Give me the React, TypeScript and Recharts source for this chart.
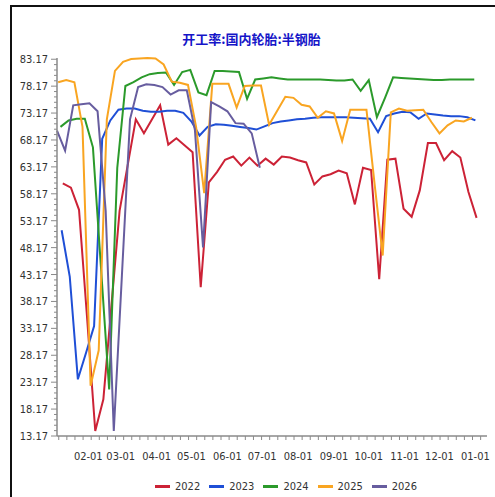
import React from 'react';
import { LineChart, Line, XAxis, YAxis } from 'recharts';

// 开工率:国内轮胎:半钢胎 — weekly readings, one array per year
const years = ['2022', '2023', '2024', '2025', '2026'];
const colors = ['#cc2236', '#1f4fd6', '#2b9a2b', '#f9a521', '#675d9f'];
// day of year of each year's first weekly reading
const firstDay = [9, 8, 7, 5, 4];

const v2022 = [
  60.1, 59.3, 55.2, 35.0, 14.1, 20.0, 37.5, 55.0, 63.5, 72.0,
  69.4, 72.0, 74.6, 67.3, 68.5, 67.2, 65.9, 40.8, 60.3, 62.2,
  64.5, 65.1, 63.4, 64.9, 63.4, 64.7, 63.6, 65.1, 64.9, 64.4,
  64.0, 59.9, 61.4, 61.8, 62.5, 62.0, 56.2, 63.0, 62.6, 42.3,
  64.5, 64.7, 55.4, 53.9, 58.8, 67.6, 67.6, 64.4, 66.1, 64.9,
  58.5, 53.7,
];
const v2023 = [
  51.4, 42.8, 23.7, 28.6, 33.6, 68.4, 71.8, 73.8, 74.0, 74.0,
  73.6, 73.4, 73.4, 73.6, 73.6, 73.2, 71.6, 69.0, 70.6, 71.1,
  71.0, 70.8, 70.6, 70.4, 70.1, 70.7, 71.3, 71.6, 71.8, 72.0,
  72.1, 72.3, 72.4, 72.4, 72.4, 72.4, 72.3, 72.2, 72.1, 69.6,
  72.6, 73.1, 73.4, 73.3, 72.1, 73.1, 72.9, 72.7, 72.6, 72.6,
  72.4, 71.8,
];
const v2024 = [
  70.6, 71.8, 72.1, 72.1, 66.8, 44.3, 21.8, 63.0, 78.2, 78.9,
  79.8, 80.4, 80.6, 80.7, 78.4, 80.8, 81.2, 77.0, 76.5, 81.0,
  81.0, 80.9, 80.8, 75.8, 79.4, 79.6, 79.8, 79.6, 79.4, 79.4,
  79.4, 79.4, 79.4, 79.3, 79.2, 79.2, 79.4, 77.3, 79.3, 72.4,
  76.0, 79.8, 79.7, 79.6, 79.5, 79.4, 79.3, 79.3, 79.4, 79.4,
  79.4, 79.4,
];
const v2025 = [
  78.9, 79.3, 78.9, 70.6, 22.5, 29.1, 72.0, 81.0, 82.7, 83.2,
  83.3, 83.4, 83.3, 82.2, 79.0, 78.8, 78.4, 70.6, 58.3, 78.6,
  78.6, 78.6, 74.2, 78.2, 78.3, 78.3, 71.0, 73.6, 76.2, 76.0,
  74.7, 74.4, 72.3, 73.5, 73.1, 68.0, 73.8, 73.8, 73.8, 60.0,
  46.7, 73.3, 74.0, 73.6, 73.7, 73.8, 71.5, 69.4, 70.9, 71.8,
  71.6, 72.3,
];
const v2026 = [
  69.9, 66.2, 74.6, 74.8, 75.0, 73.5, 55.0, 14.1, 43.0, 72.0,
  78.0, 78.5, 78.4, 78.0, 76.6, 77.4, 77.4, 70.0, 48.2, 75.2,
  74.4, 73.5, 71.3, 71.2, 69.4, 63.0,
];
const values = [v2022, v2023, v2024, v2025, v2026];

const monthTicks = [31, 59, 90, 120, 151, 181, 212, 243, 273, 304, 334, 365];
const monthLabels = ['02-01', '03-01', '04-01', '05-01', '06-01', '07-01', '08-01', '09-01', '10-01', '11-01', '12-01', '01-01'];
const yTicks = [13.17, 18.17, 23.17, 28.17, 33.17, 38.17, 43.17, 48.17, 53.17, 58.17, 63.17, 68.17, 73.17, 78.17, 83.17];

const series = values.map((vals, k) =>
  vals.map((v, i) => ({ day: firstDay[k] + 7 * i, value: v }))
);

// minor ticks
const yMinor = Array.from({ length: 71 }, (_, i) => Math.round((13.17 + i) * 100) / 100);
const xMinor = Array.from({ length: 53 }, (_, i) => 5.5 + 7 * i);
const xAll = [...xMinor, ...monthTicks].sort((a, b) => a - b);

const labelFont = "'Liberation Sans Narrow', 'DejaVu Sans Condensed', 'Liberation Serif', serif";
const axisColor = '#8a8a8a';

const YTick = (props: any) => {
  const { x, y, payload } = props;
  const major = yTicks.includes(payload.value);
  return (
    <g>
      <line x1={x - (major ? 6 : 3)} x2={x} y1={y} y2={y} stroke={axisColor} />
      {major && (
        <text x={x - 9} y={y} dy={4} textAnchor="end" fontSize={11} fontFamily={labelFont} fill="#333">
          {payload.value.toFixed(2)}
        </text>
      )}
    </g>
  );
};

const XTick = (props: any) => {
  const { x, y, payload } = props;
  const idx = monthTicks.indexOf(payload.value);
  if (idx >= 0) {
    return (
      <text x={x} y={y + 24} textAnchor="middle" fontSize={11} fontFamily={labelFont} fill="#333">
        {monthLabels[idx]}
      </text>
    );
  }
  return <line x1={x} x2={x} y1={y} y2={y + 4} stroke={axisColor} />;
};

export default function App() {
  return (
    <div style={{ position: 'fixed', left: 0, top: 0, width: 495, height: 497, background: '#fff', overflow: 'hidden' }}>
      <div
        style={{
          position: 'absolute', left: 10, top: 5, width: 495, height: 497,
          borderLeft: '2px solid #111', borderTop: '2px solid #111',
        }}
      />
      <div
        style={{
          position: 'absolute', left: 0, top: 29, width: 503, textAlign: 'center',
          fontFamily: "'Noto Sans CJK SC', sans-serif", fontSize: 13, fontWeight: 'bold', color: '#1515c8',
        }}
      >
        开工率:国内轮胎:半钢胎
      </div>
      <div style={{ position: 'absolute', left: 0, top: 0 }}>
        <LineChart width={495} height={497} margin={{ top: 58, right: 8, bottom: 36, left: 0 }}>
          <XAxis
            type="number"
            dataKey="day"
            domain={[4, 375]}
            ticks={xAll}
            interval={0}
            tick={<XTick />}
            tickLine={false}
            tickSize={0}
            tickMargin={0}
            height={25}
            axisLine={{ stroke: axisColor, strokeWidth: 1.5 }}
          />
          <YAxis
            type="number"
            domain={[13.17, 83.17]}
            ticks={yMinor}
            interval={0}
            tick={<YTick />}
            tickLine={false}
            tickSize={0}
            tickMargin={0}
            width={57}
            axisLine={{ stroke: axisColor, strokeWidth: 1.5 }}
          />
          {years.map((y, k) => (
            <Line
              key={y}
              data={series[k]}
              dataKey="value"
              name={y}
              type="linear"
              stroke={colors[k]}
              strokeWidth={2}
              dot={false}
              isAnimationActive={false}
            />
          ))}
        </LineChart>
      </div>
      <div
        style={{
          position: 'absolute', left: 155, top: 480, display: 'flex', alignItems: 'center',
          fontFamily: labelFont, fontSize: 11, color: '#333',
        }}
      >
        {years.map((y, k) => (
          <div key={y} style={{ display: 'flex', alignItems: 'center', marginRight: 9 }}>
            <span style={{ display: 'inline-block', width: 15, height: 3, background: colors[k] }} />
            <span style={{ marginLeft: 5 }}>{y}</span>
          </div>
        ))}
      </div>
    </div>
  );
}
